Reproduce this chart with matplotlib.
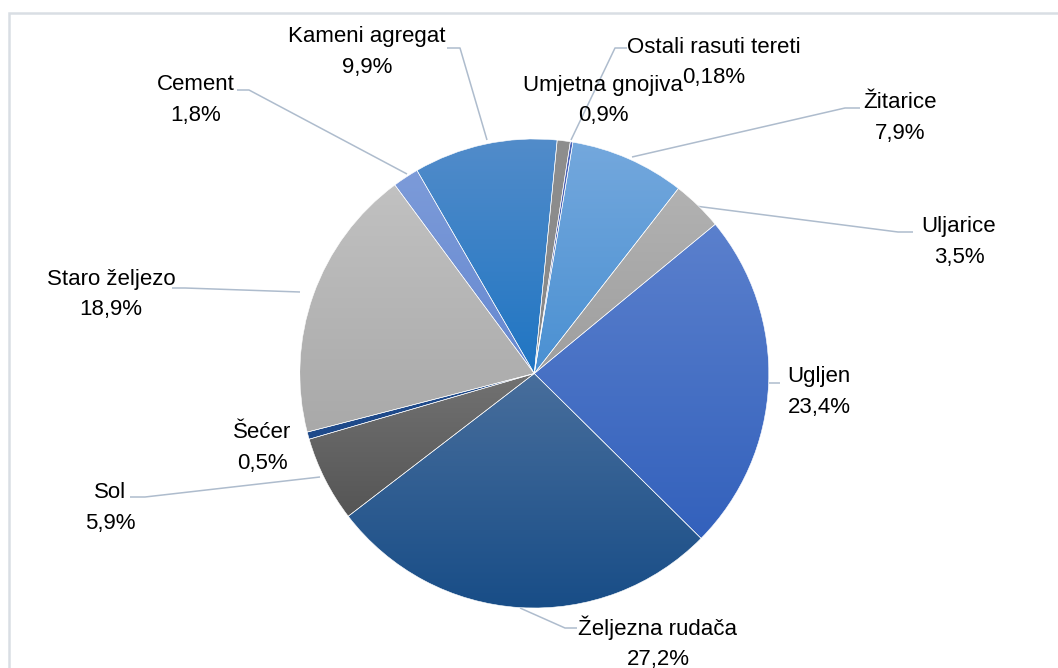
#-----------------------------------------------------------------
# Pie chart: struktura rasutih tereta
#-----------------------------------------------------------------
import matplotlib
matplotlib.use('Agg')
import matplotlib.pyplot as plt
from matplotlib.colors import LinearSegmentedColormap
from matplotlib.patches import Rectangle
import numpy as np

plt.rcParams['font.family'] = ['Liberation Sans', 'DejaVu Sans']

# data (clockwise from the top)
labels = ['Umjetna gnojiva', 'Ostali rasuti tereti', 'Žitarice', 'Uljarice', 'Ugljen',
          'Željezna rudača', 'Sol', 'Šećer', 'Staro željezo', 'Cement', 'Kameni agregat']
values = [0.9, 0.18, 7.9, 3.5, 23.4, 27.2, 5.9, 0.5, 18.9, 1.8, 9.9]
pct_text = ['0,9%', '0,18%', '7,9%', '3,5%', '23,4%', '27,2%', '5,9%', '0,5%', '18,9%', '1,8%', '9,9%']

# gradient colours per slice (top, bottom)
colors_top = ['#8e8e8e', '#4d66ba', '#74a8dd', '#b2b2b2', '#5b80cd', '#486e9c',
              '#727272', '#1f4a8a', '#c1c1c1', '#7c9bd9', '#528cca']
colors_bot = ['#888888', '#3f5bb0', '#4a90d2', '#9e9e9e', '#3361bc', '#184d87',
              '#555555', '#1f4a8a', '#a9a9a9', '#6688d0', '#1f75c3']

# label layout in image pixels: x centre, baseline of name, baseline of value
lab_x = [603, 714, 900, 959, 819, 658, 110, 262, 111, 196, 367]
lab_y = [91, 53, 108, 232, 382, 635, 498, 438, 285, 90, 42]
# leader lines (image pixels), None = no line
leaders = [None,
           [(627, 48), (615, 48), (571, 140)],
           [(860, 108), (845, 108), (632, 157)],
           [(913, 232), (898, 232), (695, 206)],
           [(780, 383), (769, 383)],
           [(577, 628), (565, 628), (520, 608)],
           [(130, 497), (145, 497), (320, 477)],
           None,
           [(172, 288), (185, 288), (300, 292)],
           [(237, 90), (249, 90), (407, 174)],
           [(447, 48), (460, 48), (487, 140)]]

W, H = 1058, 668
fig = plt.figure(figsize=(W / 100, H / 100), dpi=100)
ax = fig.add_axes([0, 0, 1, 1])

cx, cy, r = 534.3, H - 373.5, 234.5
wedges, _ = ax.pie(values, center=(cx, cy), radius=r, startangle=90 - 5.6,
                   counterclock=False, frame=True,
                   wedgeprops=dict(edgecolor='white', linewidth=0.4, facecolor='none'))

# vertical gradient in each slice
for w, ct, cb in zip(wedges, colors_top, colors_bot):
    w.set_facecolor('none')
    w.set_zorder(2)
    x0, y0, x1, y1 = w.get_path().get_extents().extents
    cmap = LinearSegmentedColormap.from_list('g', [ct, cb])
    im = ax.imshow(np.linspace(0, 1, 256).reshape(-1, 1), cmap=cmap,
                   extent=[x0, x1, y0, y1], origin='upper', aspect='auto',
                   interpolation='bilinear', zorder=1)
    im.set_clip_path(w)

# leader lines
for pts in leaders:
    if pts is None:
        continue
    xs = [p[0] for p in pts]
    ys = [H - p[1] for p in pts]
    ax.plot(xs, ys, color='#aebccd', linewidth=1.1, zorder=0.5, solid_capstyle='butt')

# labels
for name, pt, x, y in zip(labels, pct_text, lab_x, lab_y):
    ax.text(x, H - y, name, ha='center', va='baseline', fontsize=16, color='black')
    ax.text(x, H - y - 30.5, pt, ha='center', va='baseline', fontsize=16, color='black')

ax.set_xlim(0, W)
ax.set_ylim(0, H)
ax.axis('off')

# chart border
fig.patches.append(Rectangle((9 / W, 0 - 0.01), 1.1, (H - 13) / H + 0.01,
                             transform=fig.transFigure, fill=False,
                             edgecolor='#d9dee4', linewidth=1.8))

fig.savefig('out.png', dpi=100)
